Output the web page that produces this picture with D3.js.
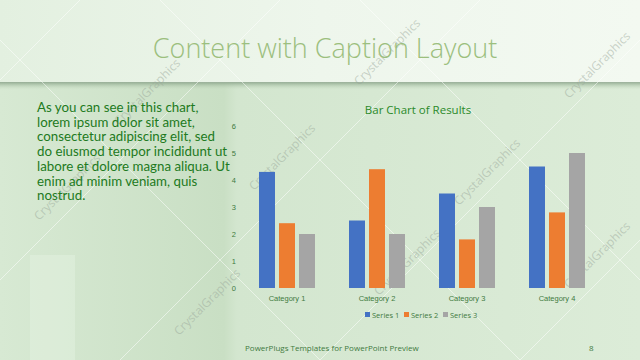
<!DOCTYPE html>
<meta charset="utf-8">
<style>
body {
  margin: 0;
  font-family: 'Open Sans', sans-serif;
}
svg {
  display: block;
}
text.title {
  font-size: 27px;
  font-weight: 300;
  fill: #9cbf7e;
}
text.body {
  font-family: Lato, sans-serif;
  font-size: 13.3px;
  fill: #217a21;
}
text.chart-title {
  font-size: 11.5px;
  fill: #2a8a2a;
}
.axis text {
  font-size: 7.5px;
  fill: #3f7a3f;
}
.axis path, .axis line {
  display: none;
}
text.legend {
  font-size: 7.5px;
  fill: #3f7a3f;
}
text.footer {
  font-size: 8px;
  fill: #3f7a3f;
}
text.mark {
  font-size: 12px;
  fill: #9aa79a;
  fill-opacity: 0.5;
}
line.diag {
  stroke: #ffffff;
  stroke-opacity: 0.5;
  stroke-width: 1;
}
</style>
<body>
<svg width="640" height="360"></svg>

<script src="https://d3js.org/d3.v7.min.js"></script>
<script>

const categories = ['Category 1', 'Category 2', 'Category 3', 'Category 4']
const seriesNames = ['Series 1', 'Series 2', 'Series 3']
const series1 = [4.3, 2.5, 3.5, 4.5]
const series2 = [2.4, 4.4, 1.8, 2.8]
const series3 = [2, 2, 3, 5]
const yTicks = [0, 1, 2, 3, 4, 5, 6]
const colors = ['#4472c4', '#ed7d31', '#a5a5a5']

const bodyLines = [
  'As you can see in this chart,',
  'lorem ipsum dolor sit amet,',
  'consectetur adipiscing elit, sed',
  'do eiusmod tempor incididunt ut',
  'labore et dolore magna aliqua. Ut',
  'enim ad minim veniam, quis',
  'nostrud.'
]

const allSeries = [series1, series2, series3]

const svg = d3.select('svg')

// background
const defs = svg.append('defs')
const bg = defs.append('linearGradient').attr('id', 'bg')
  .attr('x1', 0).attr('y1', 0).attr('x2', 1).attr('y2', 0)
bg.append('stop').attr('offset', '0%').attr('stop-color', '#d7e9d3')
bg.append('stop').attr('offset', '35%').attr('stop-color', '#c9dfc4')
bg.append('stop').attr('offset', '37%').attr('stop-color', '#d3e6cf')
bg.append('stop').attr('offset', '100%').attr('stop-color', '#dcecd8')

const headerGrad = defs.append('linearGradient').attr('id', 'header')
  .attr('x1', 0).attr('y1', 0).attr('x2', 1).attr('y2', 0)
headerGrad.append('stop').attr('offset', '0%').attr('stop-color', '#e3f0e0')
headerGrad.append('stop').attr('offset', '50%').attr('stop-color', '#eef6ec')
headerGrad.append('stop').attr('offset', '100%').attr('stop-color', '#f3f9f1')

const shade = defs.append('linearGradient').attr('id', 'shade')
  .attr('x1', 0).attr('y1', 0).attr('x2', 0).attr('y2', 1)
shade.append('stop').attr('offset', '0%').attr('stop-color', '#7f9a7f').attr('stop-opacity', 0.8)
shade.append('stop').attr('offset', '100%').attr('stop-color', '#c9dfc4').attr('stop-opacity', 0)

svg.append('rect').attr('width', 640).attr('height', 360).attr('fill', 'url(#bg)')
svg.append('rect').attr('x', 30).attr('y', 255).attr('width', 45).attr('height', 105)
  .attr('fill', '#eaf5e8').attr('opacity', 0.35)
svg.append('rect').attr('width', 640).attr('height', 83).attr('fill', 'url(#header)')
svg.append('rect').attr('y', 82).attr('width', 640).attr('height', 8).attr('fill', 'url(#shade)')

// diagonal watermark lines
const diag = [[-40, 0, 320, 360], [160, 0, 520, 360], [360, 0, 720, 360],
  [80, 0, -280, 360], [280, 0, -80, 360], [480, 0, 120, 360], [680, 0, 320, 360], [880, 0, 520, 360]]
svg.selectAll('line.diag').data(diag).enter().append('line')
  .attr('class', 'diag')
  .attr('x1', d => d[0]).attr('y1', d => d[1])
  .attr('x2', d => d[2]).attr('y2', d => d[3])

// watermarks
const marks = [[150, 95], [390, 55], [600, 68], [70, 190], [285, 160], [490, 175], [410, 265], [210, 305], [600, 258]]
svg.append('g').selectAll('text')
  .data(marks)
  .enter().append('text')
  .attr('class', 'mark')
  .attr('text-anchor', 'middle')
  .attr('transform', d => `translate(${d[0]}, ${d[1]}) rotate(-45)`)
  .text('CrystalGraphics')

svg.append('text')
  .attr('class', 'title')
  .attr('x', 325)
  .attr('y', 58)
  .attr('text-anchor', 'middle')
  .text('Content with Caption Layout')

svg.append('g').selectAll('text')
  .data(bodyLines)
  .enter().append('text')
  .attr('class', 'body')
  .attr('x', 37)
  .attr('y', (d, i) => 112 + i * 14.7)
  .text(d => d)

// chart
const x0 = d3.scaleBand()
  .domain(categories)
  .range([242, 602])
  .paddingInner(0)

const x1 = d3.scaleBand()
  .domain(seriesNames)
  .range([17, 73])
  .paddingInner(0.2)
  .paddingOuter(0)

const y = d3.scaleLinear()
  .domain([0, 6])
  .range([288, 126])

svg.append('text')
  .attr('class', 'chart-title')
  .attr('x', 418)
  .attr('y', 114)
  .attr('text-anchor', 'middle')
  .text('Bar Chart of Results')

svg.append('g')
  .attr('class', 'axis')
  .attr('transform', 'translate(236, 0)')
  .call(d3.axisLeft(y).tickValues(yTicks).tickFormat(d3.format('d')).tickSize(0).tickPadding(0))

svg.append('g')
  .attr('class', 'axis')
  .attr('transform', 'translate(0, 288)')
  .call(d3.axisBottom(x0).tickSize(0).tickPadding(8))

const groups = svg.append('g').selectAll('g')
  .data(categories)
  .enter().append('g')
  .attr('transform', d => `translate(${x0(d)}, 0)`)

groups.selectAll('rect')
  .data((c, ci) => allSeries.map((s, si) => ({ name: seriesNames[si], value: s[ci], color: colors[si] })))
  .enter().append('rect')
  .attr('x', d => x1(d.name))
  .attr('width', x1.bandwidth())
  .attr('y', d => y(d.value))
  .attr('height', d => y(0) - y(d.value))
  .attr('fill', d => d.color)

// legend
const legend = svg.append('g').attr('transform', 'translate(365, 315)')
const items = legend.selectAll('g')
  .data(seriesNames)
  .enter().append('g')
  .attr('transform', (d, i) => `translate(${i * 39}, 0)`)
items.append('rect')
  .attr('x', 0).attr('y', -3).attr('width', 5).attr('height', 5)
  .attr('fill', (d, i) => colors[i])
items.append('text')
  .attr('class', 'legend')
  .attr('x', 7)
  .attr('y', 2.5)
  .text(d => d)

svg.append('text')
  .attr('class', 'footer')
  .attr('x', 245)
  .attr('y', 351)
  .text('PowerPlugs Templates for PowerPoint Preview')

svg.append('text')
  .attr('class', 'footer')
  .attr('x', 589)
  .attr('y', 351)
  .text('8')

</script>
</body>
